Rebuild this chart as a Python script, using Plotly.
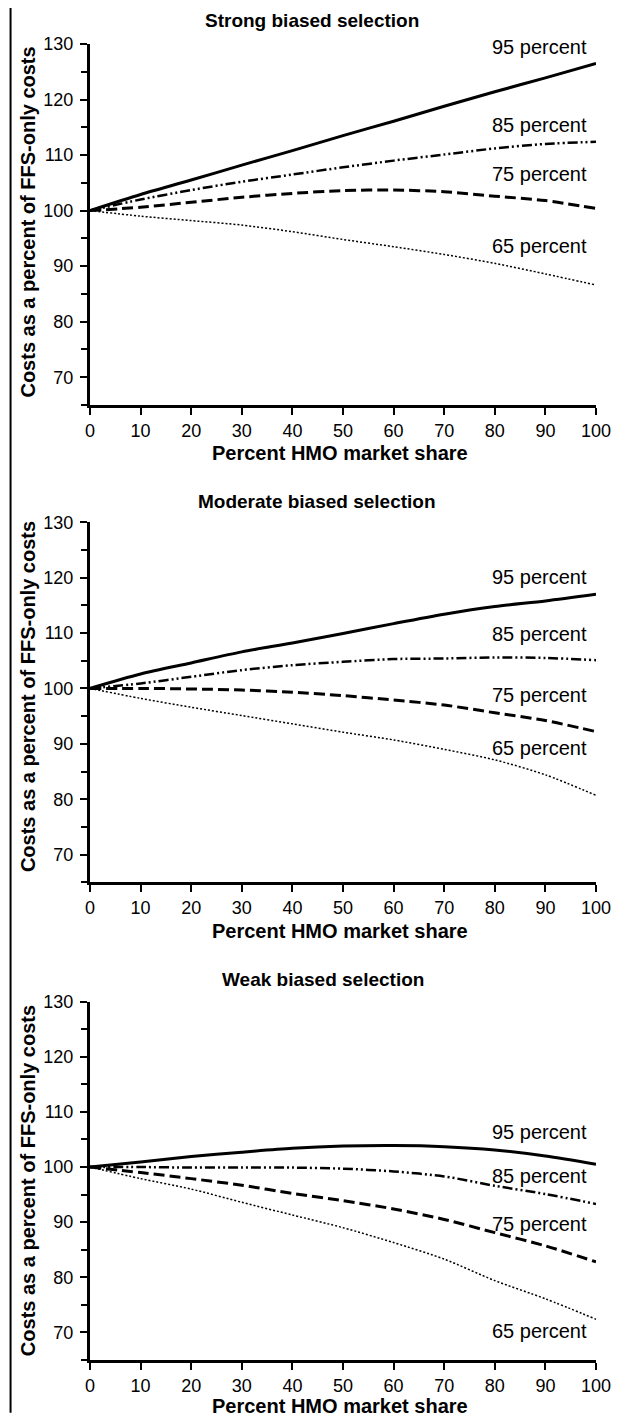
import plotly.graph_objects as go

# ---- data ----
market_share = [0, 10, 20, 30, 40, 50, 60, 70, 80, 90, 100]
series_names = ["95 percent", "85 percent", "75 percent", "65 percent"]
panel_titles = ["Strong biased selection", "Moderate biased selection", "Weak biased selection"]

strong_95 = [100, 102.9, 105.5, 108.2, 110.8, 113.5, 116.1, 118.8, 121.4, 123.9, 126.5]
strong_85 = [100, 102.0, 103.7, 105.2, 106.5, 107.8, 109.0, 110.1, 111.2, 112.0, 112.4]
strong_75 = [100, 100.6, 101.5, 102.4, 103.1, 103.6, 103.7, 103.4, 102.6, 101.8, 100.4]
strong_65 = [100, 99.0, 98.2, 97.4, 96.2, 94.8, 93.5, 92.1, 90.5, 88.6, 86.6]

moderate_95 = [100, 102.6, 104.6, 106.6, 108.2, 109.9, 111.7, 113.4, 114.8, 115.8, 117.0]
moderate_85 = [100, 100.9, 102.1, 103.3, 104.2, 104.8, 105.3, 105.4, 105.6, 105.5, 105.1]
moderate_75 = [100, 100.0, 99.9, 99.7, 99.3, 98.7, 97.9, 97.0, 95.6, 94.2, 92.2]
moderate_65 = [100, 98.2, 96.6, 95.1, 93.6, 92.1, 90.7, 89.0, 87.1, 84.4, 80.7]

weak_95 = [100, 100.9, 101.9, 102.7, 103.4, 103.8, 103.9, 103.7, 103.1, 102.0, 100.5]
weak_85 = [100, 100.0, 99.9, 99.9, 99.9, 99.7, 99.2, 98.3, 96.6, 95.1, 93.3]
weak_75 = [100, 99.0, 97.9, 96.7, 95.2, 93.9, 92.4, 90.5, 88.1, 85.7, 82.8]
weak_65 = [100, 97.9, 96.0, 93.6, 91.3, 89.0, 86.3, 83.3, 79.4, 76.1, 72.4]

y_ticks = [70, 80, 90, 100, 110, 120, 130]
x_ticks = [0, 10, 20, 30, 40, 50, 60, 70, 80, 90, 100]

# label anchor heights (text positions, data units)
label_y = [
    [129.5, 115.4, 106.6, 93.6],
    [120.2, 109.9, 98.9, 89.2],
    [106.4, 98.3, 89.7, 70.2],
]

panels = [
    [strong_95, strong_85, strong_75, strong_65],
    [moderate_95, moderate_85, moderate_75, moderate_65],
    [weak_95, weak_85, weak_75, weak_65],
]

# ---- styling ----
FONT = "Liberation Sans"
styles = [
    dict(width=3, dash="solid"),
    dict(width=2.5, dash="10px,3px,2px,3px,2px,3px"),
    dict(width=3, dash="11px,5px"),
    dict(width=1.5, dash="2px,2px"),
]
domains = [[0.7257, 1.0], [0.3630, 0.6366], [0.0, 0.2723]]
title_y = [1.0182, 0.6522, 0.2888]
title_x = [0.4388, 0.448, 0.461]
xtitle_y = [0.6892, 0.326, -0.0350]
ytitle_y = [0.8644, 0.5038, 0.136]

fig = go.Figure()
annotations = []
for i, series in enumerate(panels):
    xa = "x" if i == 0 else f"x{i+1}"
    ya = "y" if i == 0 else f"y{i+1}"
    for j, vals in enumerate(series):
        fig.add_trace(go.Scatter(
            x=market_share, y=vals, mode="lines",
            line=dict(color="black", shape="spline", smoothing=0.8, **styles[j]),
            xaxis=xa, yaxis=ya, showlegend=False, name=series_names[j]))
        annotations.append(dict(
            text=series_names[j], xref="paper", yref=ya, x=0.9864,
            y=label_y[i][j], xanchor="right", yanchor="middle", showarrow=False,
            font=dict(family=FONT, size=20, color="black")))
    annotations.append(dict(
        text=f"<b>{panel_titles[i]}</b>", xref="paper", yref="paper",
        x=title_x[i], y=title_y[i], xanchor="center", yanchor="middle",
        showarrow=False, font=dict(family=FONT, size=19, color="black")))
    annotations.append(dict(
        text="<b>Percent HMO market share</b>", xref="paper", yref="paper",
        x=0.495, y=xtitle_y[i], xanchor="center", yanchor="middle",
        showarrow=False, font=dict(family=FONT, size=20, color="black")))
    annotations.append(dict(
        text="<b>Costs as a percent of FFS-only costs</b>", xref="paper", yref="paper",
        x=-0.1223, y=ytitle_y[i], xanchor="center", yanchor="middle",
        textangle=-90, showarrow=False,
        font=dict(family=FONT, size=20, color="black")))

    axis_common = dict(showline=True, linecolor="black", linewidth=3,
                       ticks="outside", ticklen=7, tickwidth=2, tickcolor="black",
                       showgrid=False, zeroline=False,
                       tickfont=dict(family=FONT, size=18, color="black"))
    fig.update_layout(**{
        ("xaxis" if i == 0 else f"xaxis{i+1}"): dict(
            range=[0, 100], tickvals=x_ticks, anchor=ya, domain=[0, 1],
            **axis_common),
        ("yaxis" if i == 0 else f"yaxis{i+1}"): dict(
            range=[65, 130], tickvals=y_ticks, anchor=xa, domain=domains[i],
            ticklabelstandoff=3,
            minor=dict(ticks="outside", dtick=5, tick0=65, ticklen=6,
                       tickwidth=2, tickcolor="black"),
            **axis_common),
    })

fig.update_layout(
    width=615, height=1413,
    margin=dict(l=82, r=18, t=36, b=61),
    paper_bgcolor="white", plot_bgcolor="white",
    annotations=annotations,
    shapes=[dict(type="line", xref="paper", yref="paper",
                 x0=-0.157, x1=-0.157, y0=-0.04, y1=1.03,
                 line=dict(color="black", width=2))],
)

fig.write_html("out.html")
